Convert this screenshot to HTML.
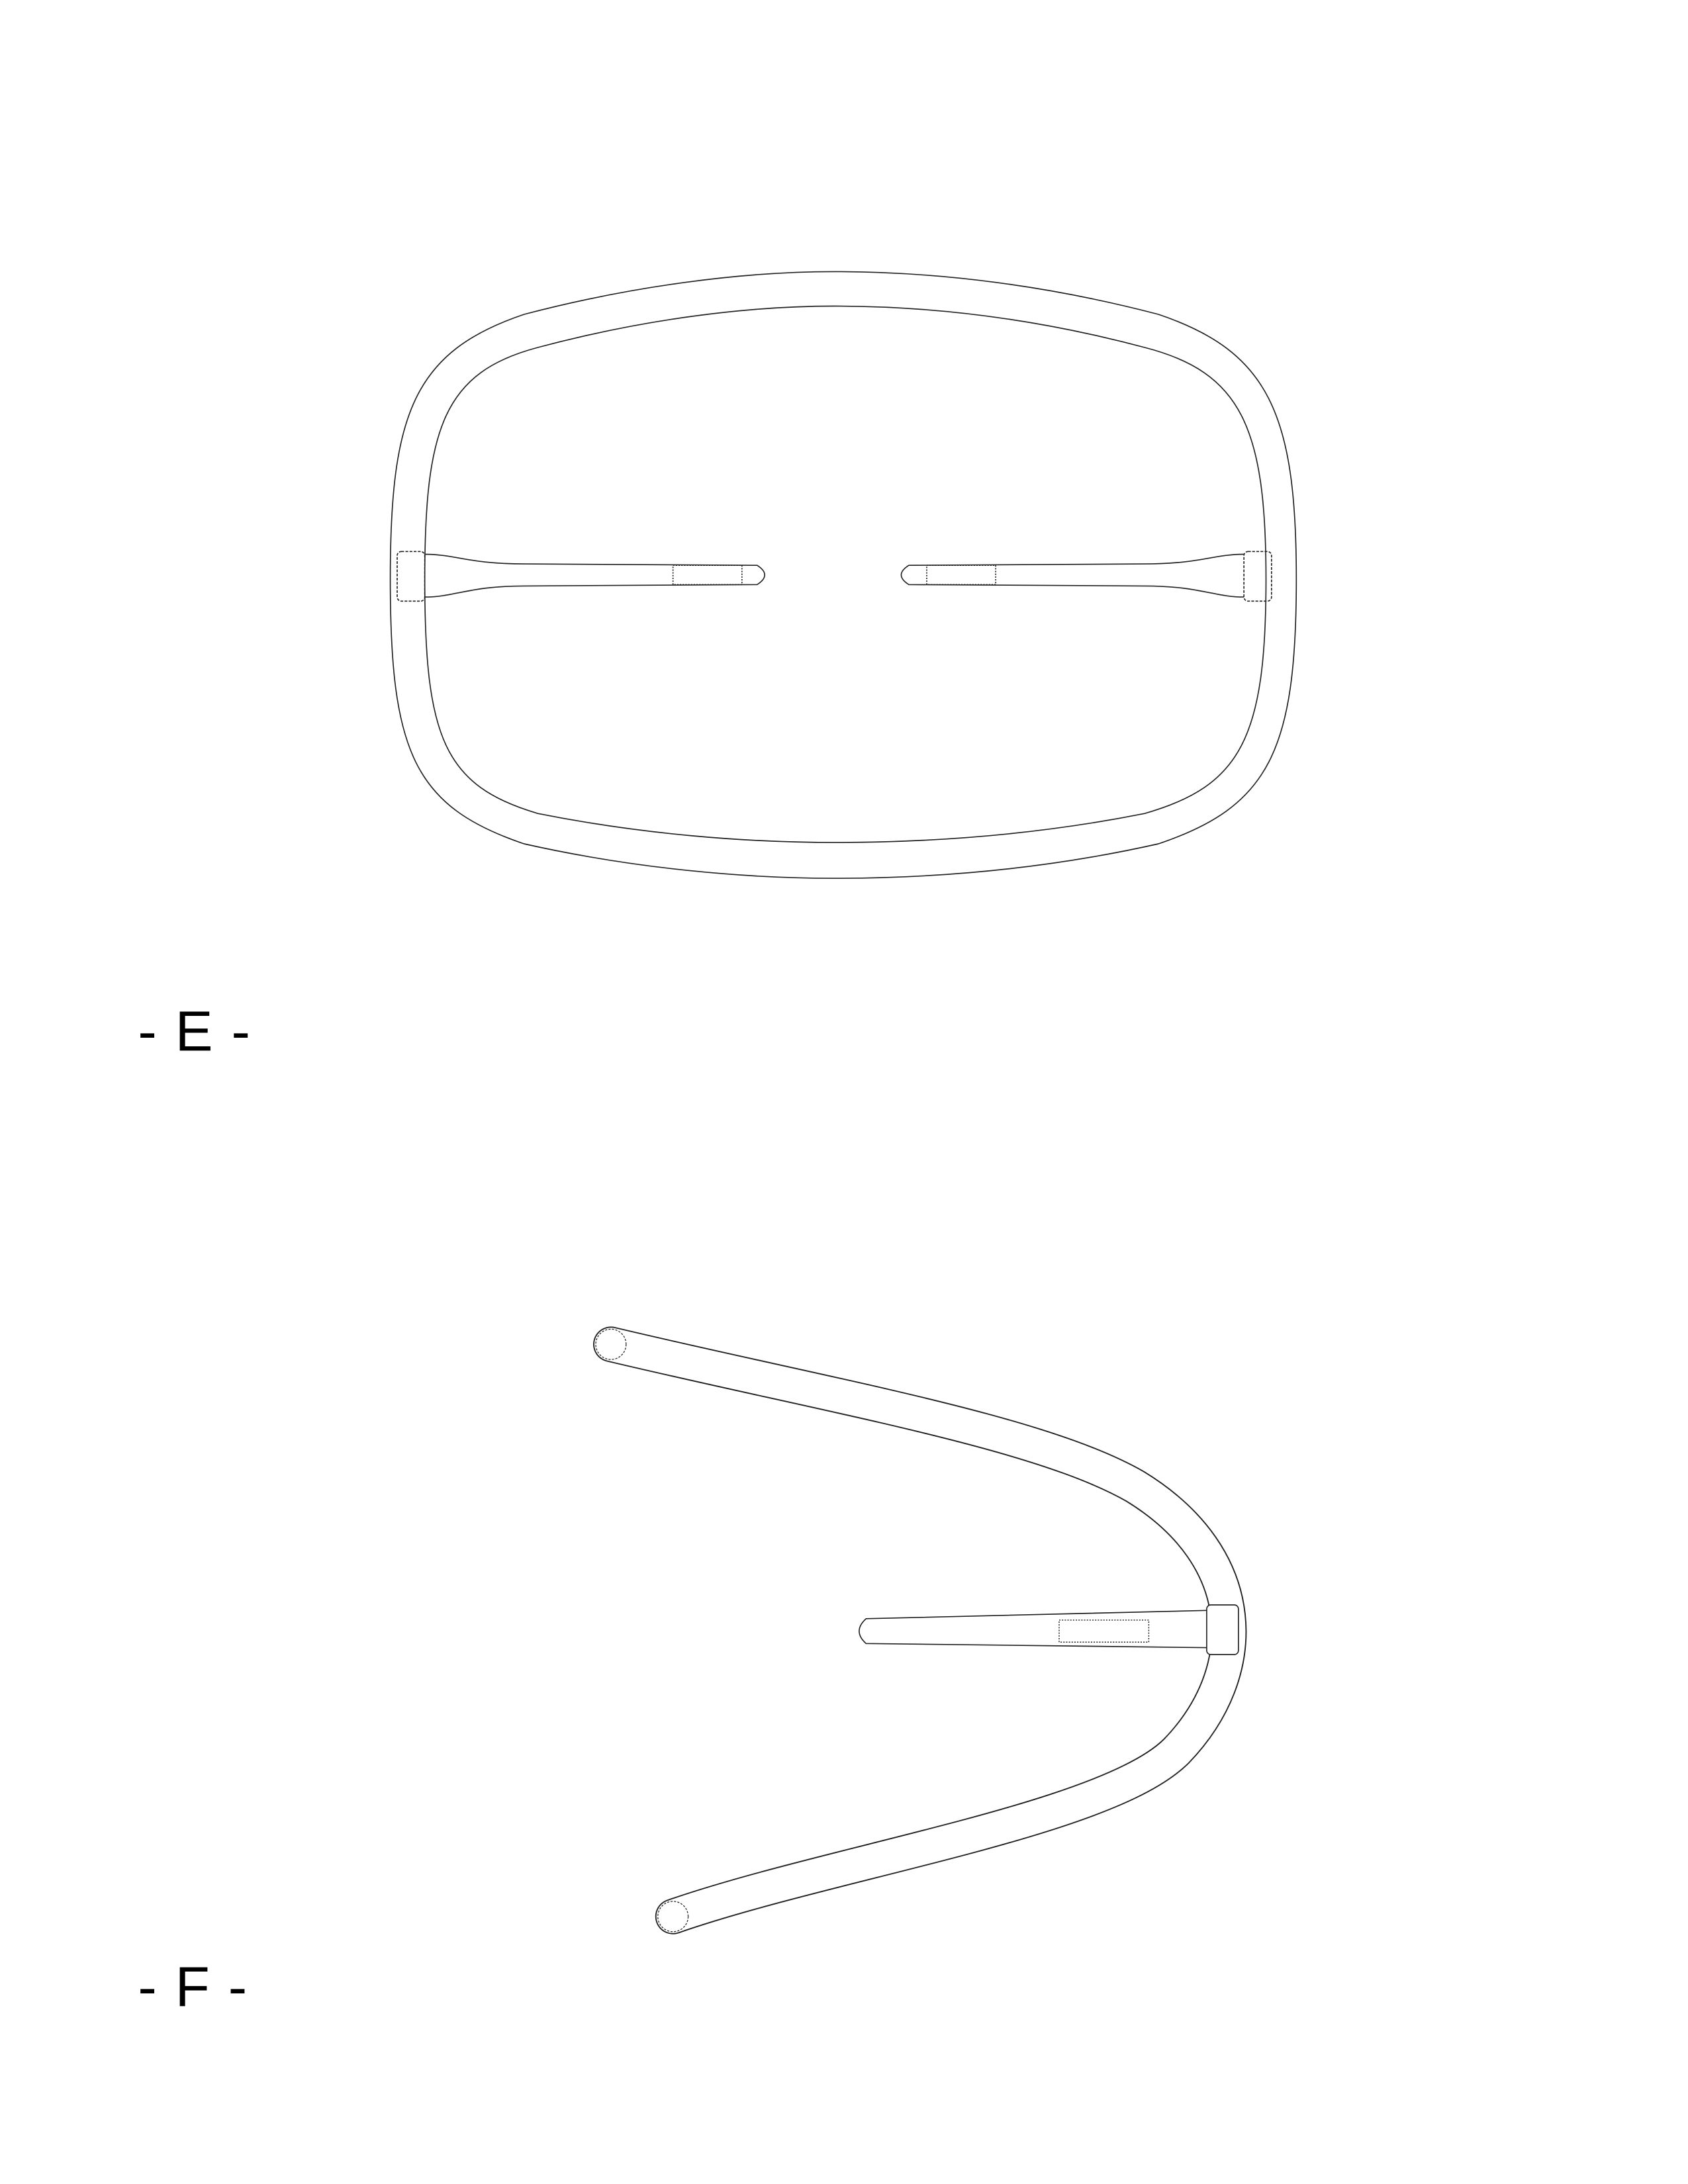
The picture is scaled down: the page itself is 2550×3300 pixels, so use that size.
<!DOCTYPE html>
<html><head><meta charset="utf-8"><style>
html,body{margin:0;padding:0;background:#fff;}
svg{display:block;}
</style></head><body>
<svg width="2550" height="3300" viewBox="0 0 1224 1584" xmlns="http://www.w3.org/2000/svg">
<rect width="1224" height="1584" fill="#fff"/>
<g fill="none" stroke="#222" stroke-width="0.8">
  <path d="M283 420 C283 300 300 255 380 228 C460 207 540 197 605 197 C680 197 760 207 840 228 C920 255 940 300 940 420 C940 545 920 585 840 612 C760 630 680 637 605 637 C540 637 460 630 380 612 C300 585 283 545 283 420 Z"/>
  <path d="M308 420 C308 310 322 270 390 252 C465 232 540 222 605 222 C680 222 755 232 830 252 C900 270 918 310 918 420 C918 535 900 570 830 590 C755 605 680 611 605 611 C540 611 465 605 390 590 C322 570 308 535 308 420 Z"/>
  <rect x="288" y="400" width="20" height="36" rx="3" stroke-dasharray="2 1"/>
  <path d="M308 402 C330 402 340 409 380 409 L549 410 Q560 417 549 424 L380 425 C340 425 330 433 308 433"/>
  <rect x="488" y="410" width="50" height="14" stroke-dasharray="1 1"/>
  <rect x="902" y="400" width="20" height="36" rx="3" stroke-dasharray="2 1"/>
  <path d="M902 402 C880 402 870 409 830 409 L659 410 Q648 417 659 424 L830 425 C870 425 880 433 902 433"/>
  <rect x="672" y="410" width="50" height="14" stroke-dasharray="1 1"/>
</g>
<text x="100" y="762" font-family="Liberation Sans, sans-serif" font-size="41" letter-spacing="1">- E -</text>
<g fill="none" transform="translate(3,8)">
  <path d="M440 967 C600 1005 750 1030 820 1070 C905 1122 905 1205 850 1262 C800 1312 600 1342 485 1382" stroke="#222" stroke-width="25.8" stroke-linecap="round"/>
  <path d="M440 967 C600 1005 750 1030 820 1070 C905 1122 905 1205 850 1262 C800 1312 600 1342 485 1382" stroke="#fff" stroke-width="24" stroke-linecap="round"/>
  <path d="M872 1160 L625 1166 Q615 1175 625 1184 L872 1187" stroke="#222" stroke-width="0.8"/>
  <rect x="765" y="1167" width="65" height="16" stroke="#222" stroke-width="0.7" stroke-dasharray="1 1"/>
  <rect x="872" y="1156" width="23" height="36" rx="3" stroke="#222" stroke-width="0.8" fill="#fff"/>
  <circle cx="440" cy="967" r="11" stroke="#222" stroke-width="0.6" stroke-dasharray="1.5 1"/>
  <circle cx="485" cy="1382" r="11" stroke="#222" stroke-width="0.6" stroke-dasharray="1.5 1"/>
</g>
<text x="100" y="1455" font-family="Liberation Sans, sans-serif" font-size="41" letter-spacing="1">- F -</text>
</svg>
</body></html>
